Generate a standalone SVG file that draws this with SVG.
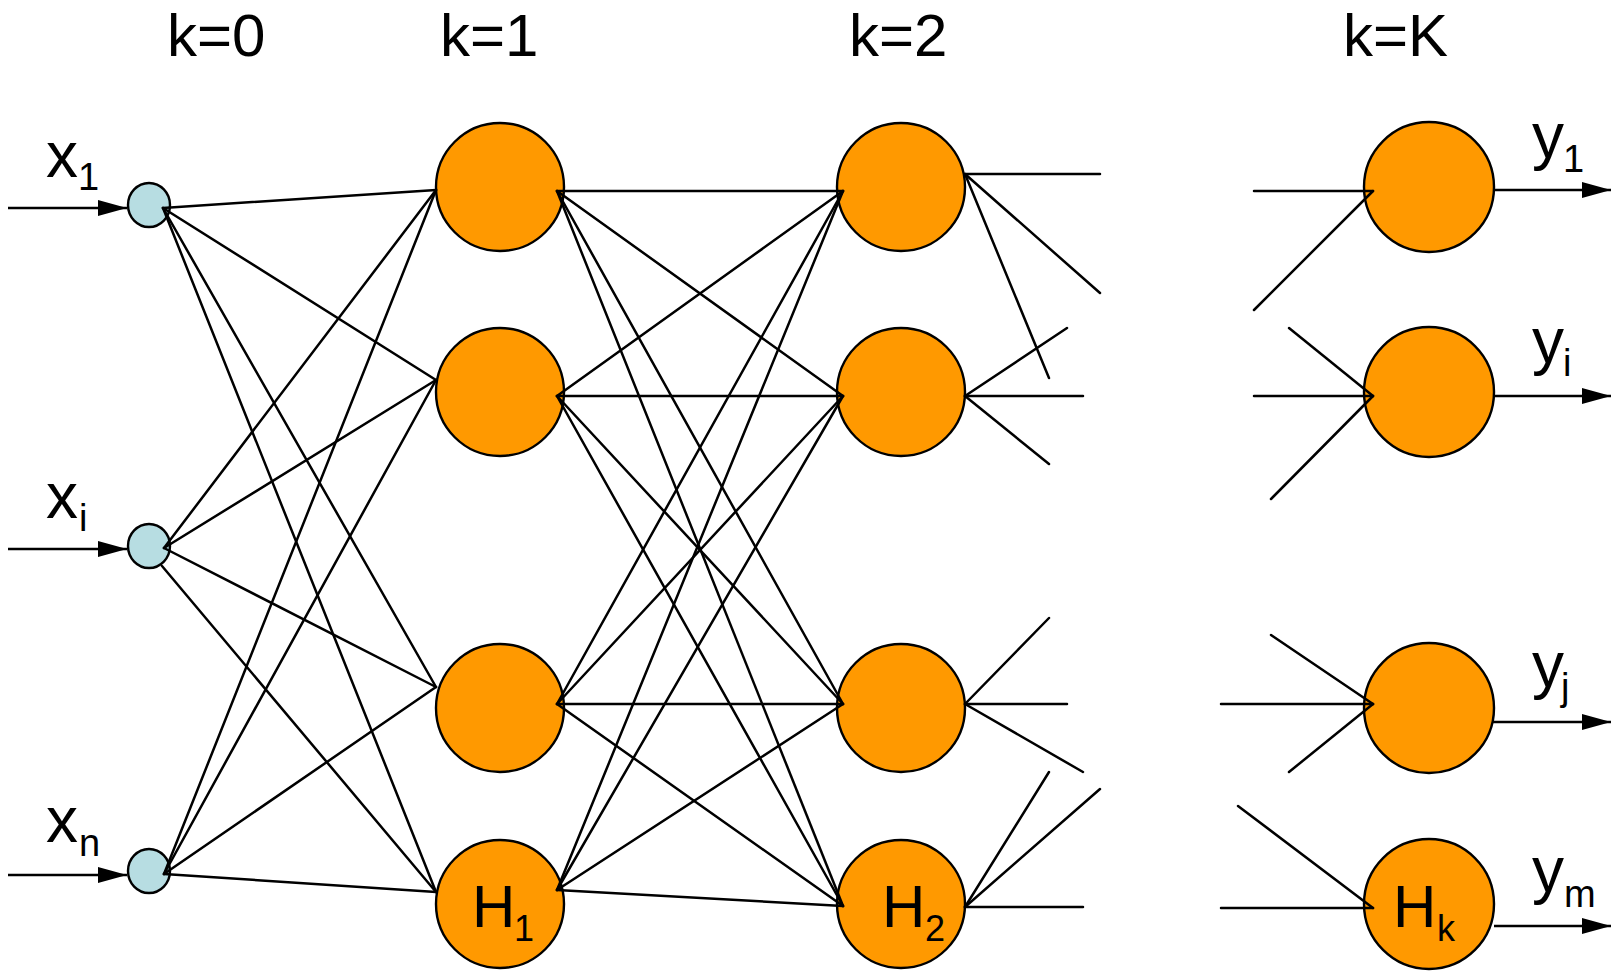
<svg xmlns="http://www.w3.org/2000/svg" width="1614" height="972" viewBox="0 0 1614 972">
  <style>
    .lbl { font-family: "Liberation Sans", Arial, sans-serif; fill: #000; }
    .head { font-size: 60px; }
    .big { font-size: 64px; }
    .sub { font-size: 38px; }
    .hl { font-size: 60px; }
    .hs { font-size: 36px; }
    .in { fill: #B7DDE2; stroke: #000; stroke-width: 2.4; }
    .hid { fill: #FF9900; stroke: #000; stroke-width: 2.4; }
    .wire { stroke: #000; stroke-width: 2.5; fill: none; stroke-linecap: round; }
    .arrow { stroke: #000; stroke-width: 2.5; fill: none; marker-end: url(#head); }
  </style>
  <defs>
    <marker id="head" markerUnits="userSpaceOnUse" markerWidth="30" markerHeight="18" refX="29" refY="9" orient="auto">
      <path d="M0,1 L29,9 L0,17 z" fill="#000"/>
    </marker>
  </defs>

  <rect width="1614" height="972" fill="#FFFFFF"/>

  <!-- layer headings -->
  <g id="headings" class="lbl head">
    <text x="167" y="56">k=0</text>
    <text x="440" y="56">k=1</text>
    <text x="849" y="56">k=2</text>
    <text x="1343" y="56">k=K</text>
  </g>

  <!-- input layer -->
  <g id="in-x1">
    <ellipse class="in" cx="149" cy="205" rx="21" ry="22"/>
    <text class="lbl big" x="46" y="177">x</text>
    <text class="lbl sub" x="78" y="190">1</text>
  </g>
  <g id="in-xi">
    <ellipse class="in" cx="149" cy="546" rx="21" ry="22"/>
    <text class="lbl big" x="46" y="518">x</text>
    <text class="lbl sub" x="79" y="531">i</text>
  </g>
  <g id="in-xn">
    <ellipse class="in" cx="149" cy="871" rx="21" ry="22"/>
    <text class="lbl big" x="46" y="842">x</text>
    <text class="lbl sub" x="79" y="856">n</text>
  </g>

  <!-- hidden layer 1 -->
  <g id="h1-a"><circle class="hid" cx="500" cy="187" r="64"/></g>
  <g id="h1-b"><circle class="hid" cx="500" cy="392" r="64"/></g>
  <g id="h1-c"><circle class="hid" cx="500" cy="708" r="64"/></g>
  <g id="h1-d">
    <circle class="hid" cx="500" cy="904" r="64"/>
    <text class="lbl hl" x="472" y="927">H</text>
    <text class="lbl hs" x="514" y="941">1</text>
  </g>

  <!-- hidden layer 2 -->
  <g id="h2-a"><circle class="hid" cx="901" cy="187" r="64"/></g>
  <g id="h2-b"><circle class="hid" cx="901" cy="392" r="64"/></g>
  <g id="h2-c"><circle class="hid" cx="901" cy="708" r="64"/></g>
  <g id="h2-d">
    <circle class="hid" cx="901" cy="904" r="64"/>
    <text class="lbl hl" x="882" y="927">H</text>
    <text class="lbl hs" x="925" y="941">2</text>
  </g>

  <!-- output layer K -->
  <g id="hk-a">
    <circle class="hid" cx="1429" cy="187" r="65"/>
    <text class="lbl big" x="1532" y="158">y</text>
    <text class="lbl sub" x="1563" y="172">1</text>
  </g>
  <g id="hk-b">
    <circle class="hid" cx="1429" cy="392" r="65"/>
    <text class="lbl big" x="1532" y="363">y</text>
    <text class="lbl sub" x="1563" y="376">i</text>
  </g>
  <g id="hk-c">
    <circle class="hid" cx="1429" cy="708" r="65"/>
    <text class="lbl big" x="1532" y="687">y</text>
    <text class="lbl sub" x="1561" y="700">j</text>
  </g>
  <g id="hk-d">
    <circle class="hid" cx="1429" cy="904" r="65"/>
    <text class="lbl hl" x="1393" y="927">H</text>
    <text class="lbl hs" x="1437" y="941">k</text>
    <text class="lbl big" x="1532" y="892">y</text>
    <text class="lbl sub" x="1564" y="907">m</text>
  </g>

  <g id="connectors">
    <!-- inputs -->
    <line class="arrow" x1="8" y1="208" x2="127" y2="208"/>
    <line class="arrow" x1="8" y1="549" x2="127" y2="549"/>
    <line class="arrow" x1="8" y1="875" x2="127" y2="875"/>

    <!-- layer 0 to layer 1 -->
    <line class="wire" x1="163" y1="208" x2="436" y2="190"/>
    <line class="wire" x1="163" y1="208" x2="436" y2="380"/>
    <line class="wire" x1="163" y1="208" x2="436" y2="687"/>
    <line class="wire" x1="163" y1="208" x2="436" y2="892"/>
    <line class="wire" x1="164" y1="548" x2="436" y2="190"/>
    <line class="wire" x1="164" y1="548" x2="436" y2="380"/>
    <line class="wire" x1="164" y1="548" x2="436" y2="687"/>
    <line class="wire" x1="162" y1="566" x2="436" y2="892"/>
    <line class="wire" x1="164" y1="874" x2="436" y2="190"/>
    <line class="wire" x1="164" y1="874" x2="436" y2="380"/>
    <line class="wire" x1="164" y1="874" x2="436" y2="687"/>
    <line class="wire" x1="164" y1="874" x2="436" y2="892"/>

    <!-- layer 1 to layer 2 -->
    <line class="wire" x1="557" y1="191" x2="843" y2="191"/>
    <line class="wire" x1="557" y1="191" x2="843" y2="396"/>
    <line class="wire" x1="557" y1="191" x2="843" y2="704"/>
    <line class="wire" x1="557" y1="191" x2="843" y2="906"/>
    <line class="wire" x1="557" y1="396" x2="843" y2="191"/>
    <line class="wire" x1="557" y1="396" x2="843" y2="396"/>
    <line class="wire" x1="557" y1="396" x2="843" y2="704"/>
    <line class="wire" x1="557" y1="396" x2="843" y2="906"/>
    <line class="wire" x1="557" y1="704" x2="843" y2="191"/>
    <line class="wire" x1="557" y1="704" x2="843" y2="396"/>
    <line class="wire" x1="557" y1="704" x2="843" y2="704"/>
    <line class="wire" x1="557" y1="704" x2="843" y2="906"/>
    <line class="wire" x1="557" y1="890" x2="843" y2="191"/>
    <line class="wire" x1="557" y1="890" x2="843" y2="396"/>
    <line class="wire" x1="557" y1="890" x2="843" y2="704"/>
    <line class="wire" x1="557" y1="890" x2="843" y2="906"/>

    <!-- layer 2 outgoing stubs -->
    <line class="wire" x1="965" y1="174" x2="1100" y2="174"/>
    <line class="wire" x1="965" y1="174" x2="1100" y2="293"/>
    <line class="wire" x1="965" y1="174" x2="1049" y2="378"/>
    <line class="wire" x1="965" y1="396" x2="1067" y2="328"/>
    <line class="wire" x1="965" y1="396" x2="1083" y2="396"/>
    <line class="wire" x1="965" y1="396" x2="1049" y2="464"/>
    <line class="wire" x1="965" y1="704" x2="1049" y2="618"/>
    <line class="wire" x1="965" y1="704" x2="1067" y2="704"/>
    <line class="wire" x1="965" y1="704" x2="1083" y2="772"/>
    <line class="wire" x1="965" y1="907" x2="1049" y2="772"/>
    <line class="wire" x1="965" y1="907" x2="1100" y2="789"/>
    <line class="wire" x1="965" y1="907" x2="1083" y2="907"/>

    <!-- layer K incoming stubs -->
    <line class="wire" x1="1254" y1="191" x2="1373" y2="191"/>
    <line class="wire" x1="1254" y1="310" x2="1373" y2="191"/>
    <line class="wire" x1="1289" y1="328" x2="1373" y2="396"/>
    <line class="wire" x1="1254" y1="396" x2="1373" y2="396"/>
    <line class="wire" x1="1271" y1="499" x2="1373" y2="396"/>
    <line class="wire" x1="1271" y1="635" x2="1373" y2="704"/>
    <line class="wire" x1="1221" y1="704" x2="1373" y2="704"/>
    <line class="wire" x1="1289" y1="772" x2="1373" y2="704"/>
    <line class="wire" x1="1238" y1="806" x2="1373" y2="908"/>
    <line class="wire" x1="1221" y1="908" x2="1373" y2="908"/>

    <!-- outputs -->
    <line class="arrow" x1="1494" y1="190" x2="1611" y2="190"/>
    <line class="arrow" x1="1494" y1="396" x2="1611" y2="396"/>
    <line class="arrow" x1="1493" y1="722" x2="1611" y2="722"/>
    <line class="arrow" x1="1494" y1="926" x2="1611" y2="926"/>
  </g>
</svg>
